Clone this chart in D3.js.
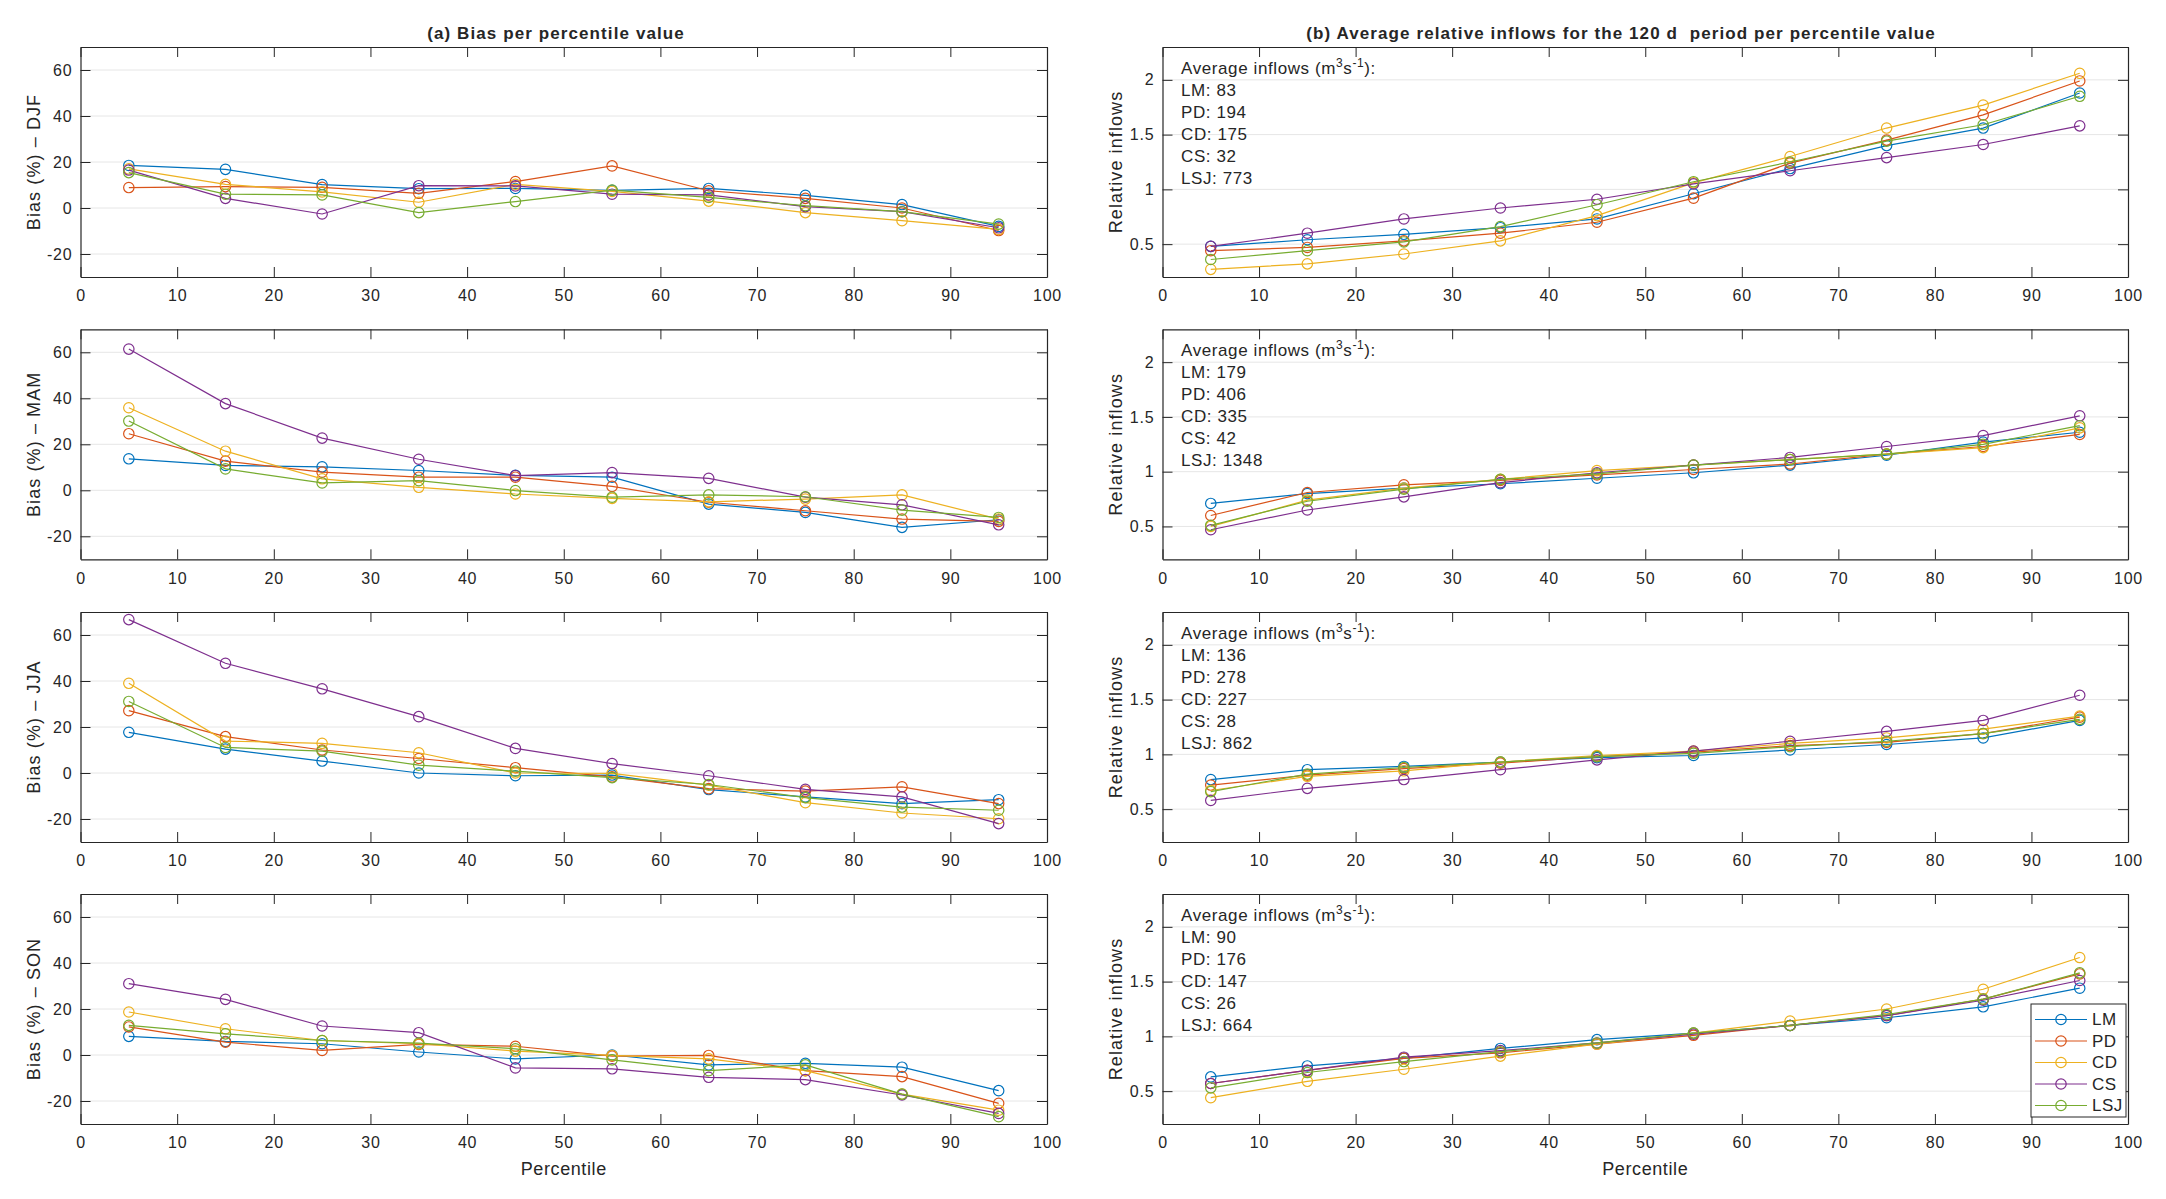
<!DOCTYPE html>
<html>
<head>
<meta charset="utf-8">
<script src="https://cdn.jsdelivr.net/npm/d3@7"></script>
<style>
    body { margin: 0; background: #fff; }
    svg text { font-family: "Liberation Sans", Arial, Helvetica, sans-serif; fill: #262626; }
</style>
</head>
<body>
<svg id="chart" width="2166" height="1199"></svg>
<script>
// data
var percentiles = [5, 15, 25, 35, 45, 55, 65, 75, 85, 95];
var stations = ["LM", "PD", "CD", "CS", "LSJ"];
var seasons = ["DJF", "MAM", "JJA", "SON"];
var colors = ["#0072BD", "#D95319", "#EDB120", "#7E2F8E", "#77AC30"];

var biasTicks = [-20, 0, 20, 40, 60];
var relTicks = [0.5, 1, 1.5, 2];
var relTickLabels = ["0.5", "1", "1.5", "2"];
var xTicks = [0, 10, 20, 30, 40, 50, 60, 70, 80, 90, 100];

// bias (%) per season, one row per station (LM, PD, CD, CS, LSJ)
var biasDJF = [
    [18.5, 16.8, 10.2, 8.4, 8.5, 7.7, 8.5, 5.5, 1.5, -8],
    [8.9, 9.3, 9, 6.4, 11.5, 18.3, 7.5, 4.2, 0, -9.8],
    [17, 10.3, 7, 2.5, 10.3, 7.2, 3, -2, -5.5, -9.3],
    [16.5, 4.2, -2.6, 9.7, 9.6, 6, 5.7, 0.6, -1.6, -8.6],
    [15.4, 6, 5.7, -2, 2.8, 7.8, 4.6, 1, -1.6, -7]
];
var biasMAM = [
    [13.7, 10.8, 10.2, 8.6, 6.5, 5.7, -6, -9.6, -16.1, -12.8],
    [24.6, 12.7, 7.9, 5.7, 5.7, 1.7, -5.2, -8.9, -12.5, -13.5],
    [35.9, 17, 5, 1.3, -1.6, -3.5, -5, -3.8, -2, -12.5],
    [61.4, 37.7, 22.7, 13.5, 6.4, 7.7, 5.2, -3, -6.3, -15],
    [30.1, 9.3, 3.2, 4.2, -0.1, -3, -2, -2.8, -8.6, -11.8]
];
var biasJJA = [
    [17.7, 10.4, 5.2, 0, -1.2, -0.9, -7.2, -10.4, -13.3, -11.6],
    [27.1, 15.8, 10, 6.3, 2.3, -1.7, -6.8, -7.9, -6, -13.3],
    [39, 13.9, 12.9, 8.8, 0, -0.2, -5.3, -12.9, -17.4, -19.9],
    [66.7, 47.7, 36.6, 24.5, 10.7, 4.1, -1.2, -7.1, -10.4, -22],
    [31.1, 11.1, 9.5, 3.4, 0.8, -2, -5, -10.7, -14.8, -16.2]
];
var biasSON = [
    [8.1, 5.9, 4.9, 1.3, -1.7, 0, -4.3, -3.6, -5.3, -15.5],
    [12.2, 5.6, 2, 4.6, 3.8, -0.5, -0.2, -6.8, -9.4, -21],
    [18.7, 11.4, 6.3, 4.9, 1.7, -0.2, -1.7, -6.8, -17, -24],
    [31, 24.2, 12.6, 9.7, -5.6, -6, -9.7, -10.7, -17.4, -25.4],
    [12.9, 9.2, 6.3, 5.2, 2.7, -2.1, -6.8, -4.3, -17, -26.8]
];

// relative inflows per season, one row per station
var relDJF = [
    [0.48, 0.54, 0.59, 0.65, 0.73, 0.96, 1.19, 1.40, 1.56, 1.88],
    [0.44, 0.47, 0.53, 0.60, 0.70, 0.92, 1.24, 1.45, 1.68, 1.99],
    [0.27, 0.32, 0.41, 0.53, 0.76, 1.06, 1.30, 1.56, 1.77, 2.06],
    [0.48, 0.60, 0.73, 0.83, 0.91, 1.05, 1.17, 1.29, 1.41, 1.58],
    [0.36, 0.44, 0.52, 0.66, 0.86, 1.07, 1.25, 1.44, 1.59, 1.85]
];
var relMAM = [
    [0.71, 0.80, 0.85, 0.89, 0.94, 0.99, 1.06, 1.15, 1.27, 1.36],
    [0.60, 0.81, 0.88, 0.92, 0.97, 1.02, 1.07, 1.16, 1.23, 1.34],
    [0.50, 0.74, 0.85, 0.93, 1.01, 1.06, 1.11, 1.16, 1.22, 1.40],
    [0.47, 0.65, 0.77, 0.90, 0.99, 1.06, 1.13, 1.23, 1.33, 1.51],
    [0.51, 0.73, 0.84, 0.93, 0.98, 1.06, 1.11, 1.16, 1.25, 1.42]
];
var relJJA = [
    [0.77, 0.86, 0.89, 0.93, 0.97, 0.99, 1.04, 1.09, 1.15, 1.31],
    [0.72, 0.81, 0.87, 0.92, 0.98, 1.02, 1.08, 1.11, 1.19, 1.34],
    [0.67, 0.80, 0.85, 0.93, 0.99, 1.03, 1.10, 1.15, 1.23, 1.35],
    [0.58, 0.69, 0.77, 0.86, 0.95, 1.03, 1.12, 1.21, 1.31, 1.54],
    [0.66, 0.82, 0.88, 0.93, 0.98, 1.01, 1.07, 1.12, 1.19, 1.32]
];
var relSON = [
    [0.63, 0.73, 0.80, 0.89, 0.97, 1.03, 1.10, 1.17, 1.27, 1.44],
    [0.57, 0.69, 0.80, 0.85, 0.93, 1.01, 1.10, 1.19, 1.34, 1.57],
    [0.44, 0.59, 0.70, 0.82, 0.93, 1.03, 1.14, 1.25, 1.43, 1.72],
    [0.57, 0.69, 0.81, 0.87, 0.94, 1.02, 1.10, 1.19, 1.33, 1.51],
    [0.53, 0.67, 0.77, 0.86, 0.94, 1.03, 1.10, 1.20, 1.34, 1.58]
];

// average inflows (m3/s) per season, per station
var avgDJF = [83, 194, 175, 32, 773];
var avgMAM = [179, 406, 335, 42, 1348];
var avgJJA = [136, 278, 227, 28, 862];
var avgSON = [90, 176, 147, 26, 664];

var biasData = [biasDJF, biasMAM, biasJJA, biasSON];
var relData = [relDJF, relMAM, relJJA, relSON];
var avgData = [avgDJF, avgMAM, avgJJA, avgSON];

// layout
var leftX = [80.5, 1047];
var rightX = [1162.5, 2128];
var rowTops = [47, 329.3, 612, 894];
var rowH = 230;
var tickLen = 10;
var axisColor = "#262626";

var svg = d3.select("#chart");

const drawPanel = (x0, x1, top, yDomain, yTicks, yLabels, series, yTitle, showXTitle) => {
    let g = svg.append("g");
    let x = d3.scaleLinear().domain([0, 100]).range([x0, x1]);
    let y = d3.scaleLinear().domain(yDomain).range([top + rowH, top]);

    // grid
    g.selectAll(".grid").data(yTicks).enter().append("line")
        .attr("x1", x0).attr("x2", x1)
        .attr("y1", d => y(d)).attr("y2", d => y(d))
        .attr("stroke", "#e6e6e6").attr("stroke-width", 1);

    // axes (left/bottom with d3 axes, box + inner ticks on the other sides)
    let yAxis = d3.axisLeft(y).tickValues(yTicks).tickSizeInner(-tickLen).tickSizeOuter(0)
        .tickPadding(8).tickFormat((d, i) => yLabels[i]);
    let yAxisR = d3.axisRight(y).tickValues(yTicks).tickSizeInner(-tickLen).tickSizeOuter(0).tickFormat("");
    let xAxis = d3.axisBottom(x).tickValues(xTicks).tickSizeInner(-tickLen).tickSizeOuter(0)
        .tickPadding(13);
    let xAxisT = d3.axisTop(x).tickValues(xTicks).tickSizeInner(-tickLen).tickSizeOuter(0).tickFormat("");

    g.append("g").attr("transform", "translate(" + x0 + ",0)").call(yAxis);
    g.append("g").attr("transform", "translate(" + x1 + ",0)").call(yAxisR);
    g.append("g").attr("transform", "translate(0," + (top + rowH) + ")").call(xAxis);
    g.append("g").attr("transform", "translate(0," + top + ")").call(xAxisT);

    g.selectAll(".domain").attr("stroke", axisColor).attr("stroke-width", 1.2);
    g.selectAll(".tick line").attr("stroke", axisColor).attr("stroke-width", 1);
    g.selectAll(".tick text").attr("font-size", 16).attr("letter-spacing", 0.8)
        .attr("font-family", "Liberation Sans, Arial, sans-serif").attr("fill", axisColor);

    // y title
    g.append("text")
        .attr("transform", "translate(" + (x0 - 46.5) + "," + (top + rowH / 2) + ") rotate(-90)")
        .attr("text-anchor", "middle").attr("dy", "0.35em")
        .attr("font-size", 18).attr("letter-spacing", 1.1)
        .text(yTitle);

    if (showXTitle) {
        g.append("text")
            .attr("x", (x0 + x1) / 2).attr("y", top + rowH + 51)
            .attr("text-anchor", "middle")
            .attr("font-size", 18).attr("letter-spacing", 0.6)
            .text("Percentile");
    }

    // lines and circle markers
    let line = d3.line().x((d, i) => x(percentiles[i])).y(d => y(d));
    series.forEach((vals, s) => {
        g.append("path").datum(vals)
            .attr("d", line).attr("fill", "none")
            .attr("stroke", colors[s]).attr("stroke-width", 1.2);
        g.selectAll(".m" + s).data(vals).enter().append("circle")
            .attr("cx", (d, i) => x(percentiles[i])).attr("cy", d => y(d))
            .attr("r", 5.2).attr("fill", "none")
            .attr("stroke", colors[s]).attr("stroke-width", 1.2);
    });
    return g;
}

// titles
svg.append("text").attr("x", 556).attr("y", 39).attr("text-anchor", "middle")
    .attr("font-size", 17).attr("font-weight", "bold").attr("letter-spacing", 1.1).attr("fill", "#000")
    .text("(a) Bias per percentile value");
svg.append("text").attr("x", 1621).attr("y", 39).attr("text-anchor", "middle")
    .attr("font-size", 17).attr("font-weight", "bold").attr("letter-spacing", 1.1).attr("fill", "#000")
    .style("white-space", "pre")
    .text("(b) Average relative inflows for the 120 d  period per percentile value");

for (let r = 0; r < 4; r++) {
    drawPanel(leftX[0], leftX[1], rowTops[r], [-30, 70], biasTicks, biasTicks.map(String),
        biasData[r], "Bias (%) \u2013 " + seasons[r], r == 3);
    let g = drawPanel(rightX[0], rightX[1], rowTops[r], [0.2, 2.3], relTicks, relTickLabels,
        relData[r], "Relative inflows", r == 3);

    // average inflow annotation
    let ann = g.append("text").attr("x", rightX[0] + 18.5).attr("y", rowTops[r] + 27)
        .attr("font-size", 17).attr("letter-spacing", 0.6).attr("fill", "#000");
    ann.append("tspan").text("Average inflows (m");
    ann.append("tspan").attr("dy", -7).attr("font-size", 12).text("3");
    ann.append("tspan").attr("dy", 7).text("s");
    ann.append("tspan").attr("dy", -7).attr("font-size", 12).text("-1");
    ann.append("tspan").attr("dy", 7).text("):");
    stations.forEach((name, s) => {
        g.append("text").attr("x", rightX[0] + 18.5).attr("y", rowTops[r] + 27 + 22 * (s + 1))
            .attr("font-size", 17).attr("letter-spacing", 0.6).attr("fill", "#000")
            .text(name + ": " + avgData[r][s]);
    });
}

// legend in the last right panel
var lg = svg.append("g");
lg.append("rect").attr("x", 2031).attr("y", 1004).attr("width", 95).attr("height", 113)
    .attr("fill", "#fff").attr("stroke", axisColor).attr("stroke-width", 1);
stations.forEach((name, s) => {
    let ly = 1019.5 + s * 21.5;
    lg.append("line").attr("x1", 2035).attr("x2", 2087).attr("y1", ly).attr("y2", ly)
        .attr("stroke", colors[s]).attr("stroke-width", 1.2);
    lg.append("circle").attr("cx", 2061).attr("cy", ly).attr("r", 5.2)
        .attr("fill", "none").attr("stroke", colors[s]).attr("stroke-width", 1.2);
    lg.append("text").attr("x", 2092).attr("y", ly).attr("dy", "0.35em")
        .attr("font-size", 17).attr("letter-spacing", 0.5).attr("fill", "#000")
        .text(name);
});
</script>
</body>
</html>
